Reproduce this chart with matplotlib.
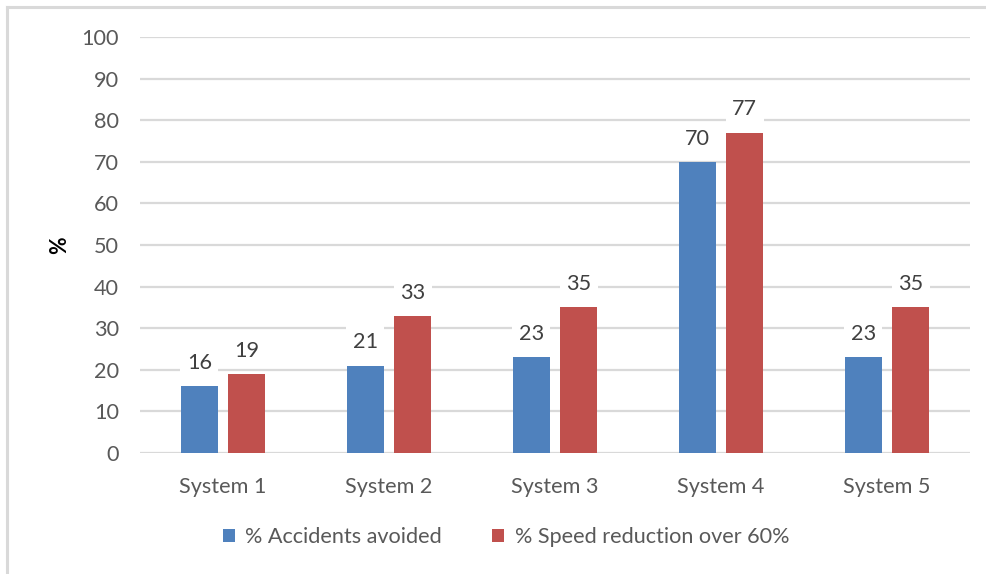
import matplotlib
matplotlib.use("Agg")
import matplotlib.pyplot as plt
import numpy as np

categories = ["System 1", "System 2", "System 3", "System 4", "System 5"]
accidents_avoided = [16, 21, 23, 70, 23]
speed_reduction = [19, 33, 35, 77, 35]
series_names = ["% Accidents avoided", "% Speed reduction over 60%"]
yticks = list(range(0, 101, 10))

plt.rcParams["font.family"] = ["Lato", "DejaVu Sans"]

W, H = 987, 574
fig = plt.figure(figsize=(W / 100, H / 100), dpi=100)

# chart frame (top and left edges visible)
fig.add_artist(plt.Line2D([7 / W, 1.0], [1 - 7 / H, 1 - 7 / H], color="#D9D9D9", lw=2.2))
fig.add_artist(plt.Line2D([7 / W, 7 / W], [0, 1 - 7 / H], color="#D9D9D9", lw=2.2))

left, right = 140 / W, 970 / W
bottom, top = 1 - 453 / H, 1 - 37 / H
ax = fig.add_axes([left, bottom, right - left, top - bottom])

x = np.arange(len(categories))
bw = 0.225
off = 0.143
blue = "#4F81BD"
red = "#C0504D"
fs = 15.6

for yv in yticks:
    ax.axhline(yv, color="#D9D9D9", lw=1.6, zorder=0)

b1 = ax.bar(x - off, accidents_avoided, bw, color=blue, zorder=2, label=series_names[0])
b2 = ax.bar(x + off, speed_reduction, bw, color=red, zorder=2, label=series_names[1])

for bars, vals in ((b1, accidents_avoided), (b2, speed_reduction)):
    for r, v in zip(bars, vals):
        ax.annotate(f"{v}", (r.get_x() + r.get_width() / 2, v), xytext=(0, 9.5),
                    textcoords="offset points", ha="center", va="bottom",
                    fontsize=fs, color="#404040", zorder=3,
                    bbox=dict(boxstyle="square,pad=0.3", fc="white", ec="none"))

ax.set_xlim(-0.5, len(categories) - 0.5)
ax.set_ylim(0, 100)
ax.set_yticks(yticks)
ax.set_xticks(x)
ax.set_xticklabels(categories)
ax.tick_params(axis="both", length=0, labelsize=fs, labelcolor="#595959")
ax.tick_params(axis="y", pad=15)
ax.tick_params(axis="x", pad=17)
for s in ax.spines.values():
    s.set_visible(False)

fig.text(60 / W, 1 - 245 / H, "%", rotation=90, ha="center", va="center",
         fontsize=15.5, fontweight="bold", color="black")

leg = fig.legend(handles=[b1, b2], labels=series_names, loc="center",
                 bbox_to_anchor=(506 / W, 1 - 537 / H), ncol=2, frameon=False,
                 fontsize=fs, handlelength=0.55, handleheight=0.55,
                 handletextpad=0.5, columnspacing=2.3)
for t in leg.get_texts():
    t.set_color("#595959")

fig.savefig("out.png", dpi=100)
